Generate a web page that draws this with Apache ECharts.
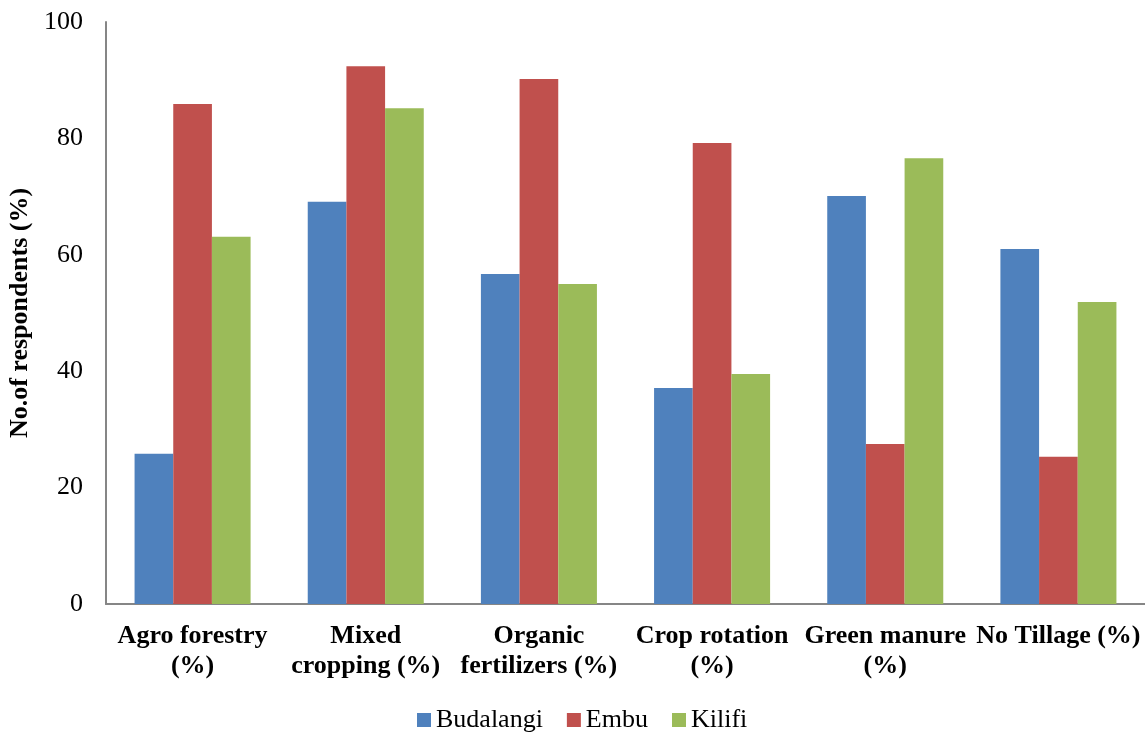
<!DOCTYPE html>
<html><head><meta charset="utf-8">
<script src="https://cdn.jsdelivr.net/npm/echarts@6/dist/echarts.min.js"></script>
<style>html,body{margin:0;padding:0;background:#fff}#c{width:1145px;height:733px}</style>
</head><body><div id="c"></div>
<script>
const categories = ["Agro forestry\n(%)", "Mixed\ncropping (%)", "Organic\nfertilizers (%)", "Crop rotation\n(%)", "Green manure\n(%)", "No Tillage (%)"];
const budalangi = [25.8, 69.1, 56.7, 37.1, 70.1, 61.0];
const embu = [85.9, 92.4, 90.2, 79.2, 27.5, 25.3];
const kilifi = [63.1, 85.2, 55.0, 39.5, 76.6, 51.9];
const yTicks = [0, 20, 40, 60, 80, 100];

const font = "'Liberation Serif','Times New Roman',serif";
const chart = echarts.init(document.getElementById('c'));
chart.setOption({
  animation: false,
  textStyle: {fontFamily: font},
  grid: {left: 106, right: 0, top: 22, bottom: 129, containLabel: false, outerBoundsMode: 'none'},
  legend: {
    bottom: -5, left: 412, itemWidth: 14, itemHeight: 14, itemGap: 24,
    icon: 'rect',
    textStyle: {fontFamily: font, fontSize: 26, color: '#000', padding: [0, 0, 0, 0]},
    data: ['Budalangi', 'Embu', 'Kilifi']
  },
  xAxis: {
    type: 'category', data: categories,
    axisLine: {lineStyle: {color: '#868686', width: 2}},
    axisTick: {show: false},
    axisLabel: {interval: 0, fontFamily: font, fontSize: 26, fontWeight: 'bold', color: '#000', lineHeight: 30, margin: 17, hideOverlap: false}
  },
  yAxis: {
    type: 'value', min: yTicks[0], max: yTicks[yTicks.length-1], interval: 20,
    name: 'No.of respondents (%)', nameLocation: 'middle', nameGap: 72,
    nameTextStyle: {fontFamily: font, fontSize: 26, fontWeight: 'bold', color: '#000'},
    axisLine: {show: true, lineStyle: {color: '#868686', width: 2}},
    axisTick: {show: false},
    splitLine: {show: false},
    axisLabel: {fontFamily: font, fontSize: 26, color: '#000', margin: 23}
  },
  series: [
    {name: 'Budalangi', type: 'bar', data: budalangi, barGap: '0%', barCategoryGap: '33%', itemStyle: {color: '#4F81BD'}},
    {name: 'Embu', type: 'bar', data: embu, barGap: '0%', barCategoryGap: '33%', itemStyle: {color: '#C0504D'}},
    {name: 'Kilifi', type: 'bar', data: kilifi, barGap: '0%', barCategoryGap: '33%', itemStyle: {color: '#9BBB59'}}
  ]
});
</script></body></html>
